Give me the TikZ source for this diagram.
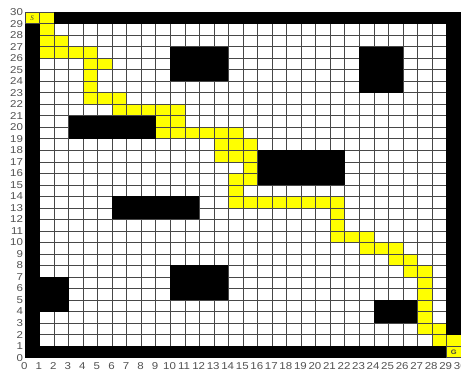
\documentclass[tikz,border=0pt]{standalone}
\usepackage{fontspec}
\setmainfont{Liberation Sans}
\newfontfamily\labfont[FakeStretch=1.15]{Liberation Sans}
\newfontfamily\sfont{Liberation Serif}
\definecolor{pathyellow}{RGB}{255,255,0}
\begin{document}
\begin{tikzpicture}[x=14.55pt,y=11.53pt,
  pathcell/.style={fill=pathyellow},
  wall/.style={fill=black},
  gridline/.style={draw=black!72,line width=0.6pt},
  ylab/.style={anchor=east,inner sep=0pt,text=black!68,font=\labfont\fontsize{10}{11}\selectfont},
  xlab/.style={anchor=center,inner sep=0pt,text=black!68,font=\labfont\fontsize{10}{11}\selectfont},
  marklab/.style={inner sep=0pt,text=black!75}]
\useasboundingbox (-1.718,-1.388) rectangle (30,31.05);
\fill[white] (-1.718,-1.388) rectangle (30,31.05);
% path cells
\foreach \r/\a/\b in {29/0/1, 28/1/1, 27/1/2, 26/1/4, 25/4/5, 24/4/4, 23/4/4,
  22/4/6, 21/6/10, 20/9/10, 19/9/14, 18/13/15, 17/13/15, 16/15/15, 15/14/15,
  14/14/14, 13/14/21, 12/21/21, 11/21/21, 10/21/23, 9/23/25, 8/25/26, 7/26/27,
  6/27/27, 5/27/27, 4/27/27, 3/27/27, 2/27/28, 1/28/29, 0/29/29}
  \fill[pathcell] (\a,\r) rectangle (\b+1,\r+1);
% grid
\foreach \i in {0,...,30} {
  \draw[gridline] (\i,0) -- (\i,30);
  \draw[gridline] (0,\i) -- (30,\i);
}
% walls and obstacles
\fill[wall] (2,29) rectangle (30,30);
\fill[wall] (0,0) rectangle (1,29);
\fill[wall] (0,0) rectangle (29,1);
\fill[wall] (29,2) rectangle (30,30);
\fill[wall] (10,24) rectangle (14,27);
\fill[wall] (23,23) rectangle (26,27);
\fill[wall] (3,19) rectangle (9,21);
\fill[wall] (16,15) rectangle (22,18);
\fill[wall] (6,12) rectangle (12,14);
\fill[wall] (1,4) rectangle (3,7);
\fill[wall] (10,5) rectangle (14,8);
\fill[wall] (24,3) rectangle (27,5);
% start and goal
\node[marklab,font=\sfont\itshape\fontsize{7}{8}\selectfont] (start) at (0.5,29.5) {S};
\node[marklab,font=\labfont\bfseries\fontsize{6.5}{7}\selectfont] (goal) at (29.5,0.5) {G};
% axis labels
\foreach \k in {0,...,30} {
  \node[ylab] (yl\k) at (-0.12,\k) {\k};
  \node[xlab] (xl\k) at (\k-0.05,-0.72) {\k};
}
\end{tikzpicture}
\end{document}
